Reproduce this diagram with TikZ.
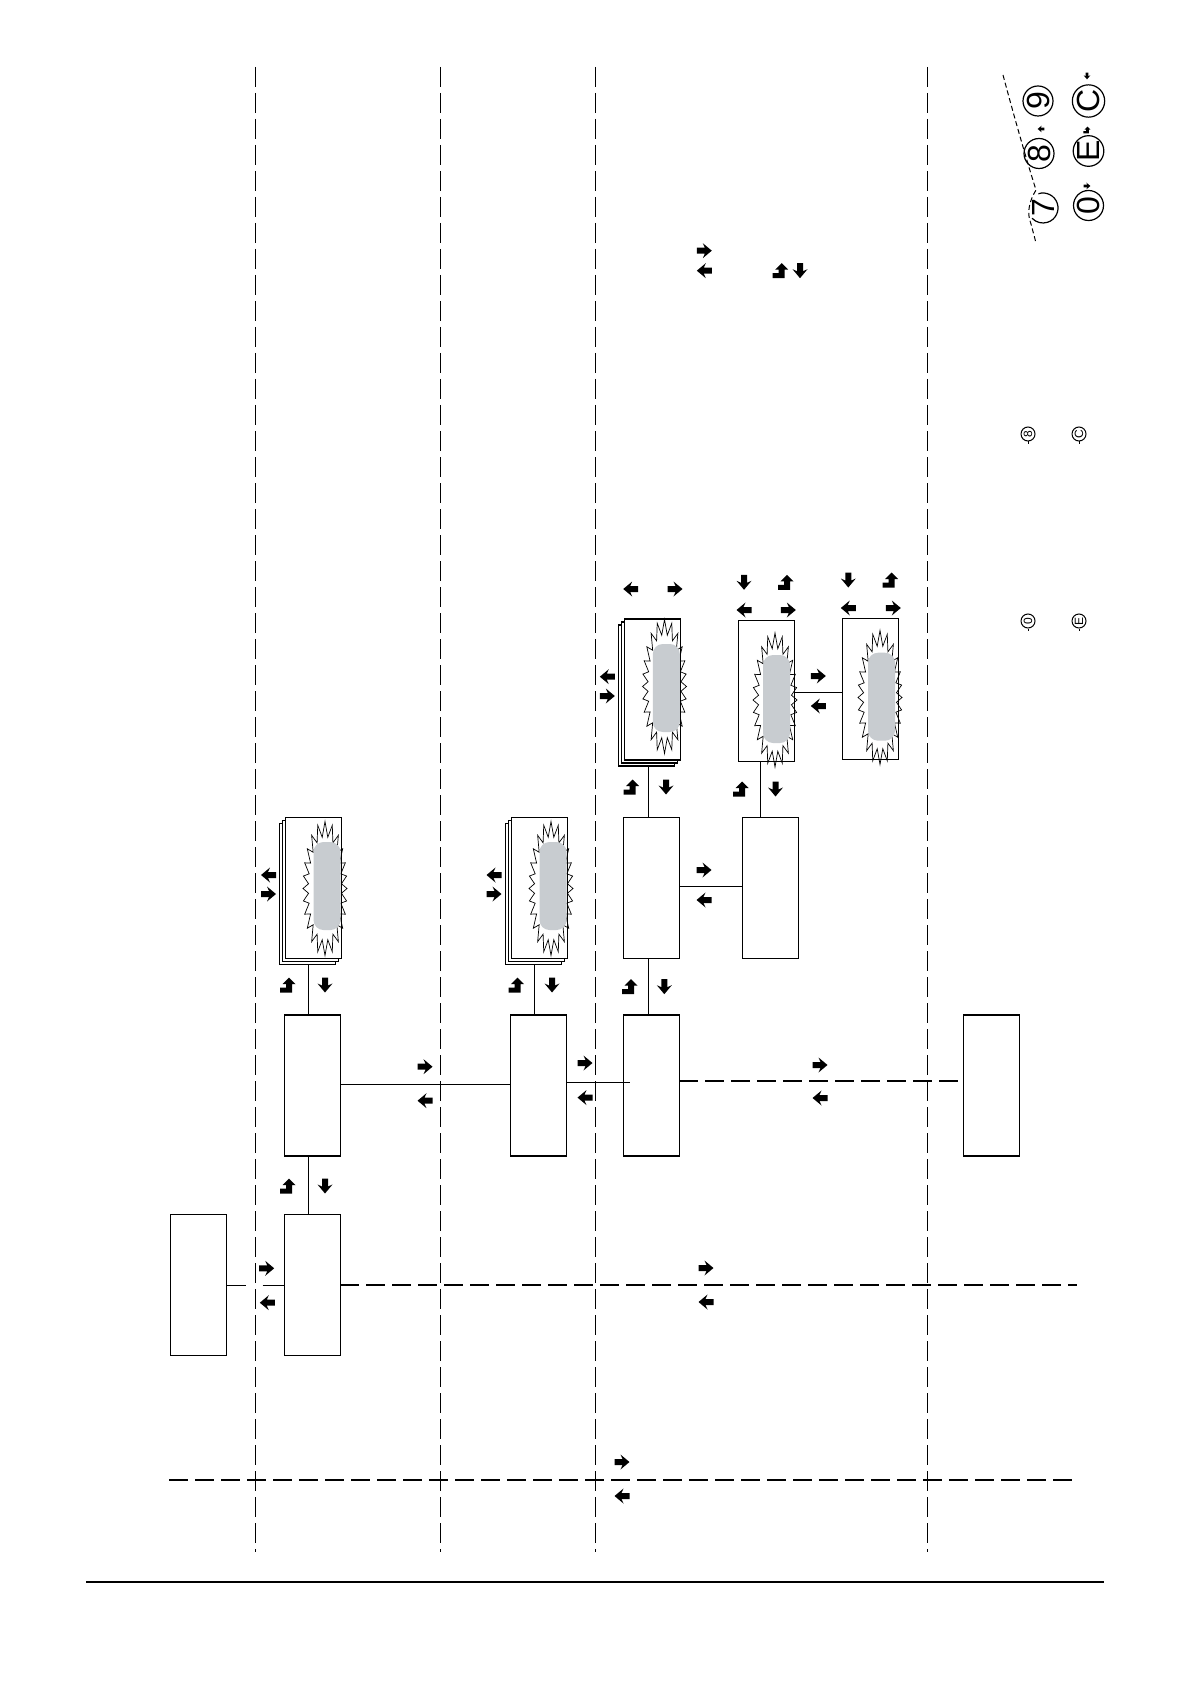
\documentclass[tikz,border=0pt]{standalone}
\usepackage{fontspec}
\setmainfont{Liberation Sans}
\usetikzlibrary{calc}
\definecolor{pillgray}{RGB}{200,204,208}
\tikzset{
  arrR/.pic={\fill (-7.5,-3) -- (0.5,-3) -- (-1.5,-7.5) -- (7.5,0) -- (-1.5,7.5) -- (0.5,3) -- (-7.5,3) -- cycle;},
  arrL/.pic={\fill (7.5,-3) -- (-0.5,-3) -- (1.5,-7.5) -- (-7.5,0) -- (1.5,7.5) -- (-0.5,3) -- (7.5,3) -- cycle;},
  arrD/.pic={\fill (-3,-7.5) -- (-3,0.5) -- (-7.5,-1.5) -- (0,7.5) -- (7.5,-1.5) -- (3,0.5) -- (3,-7.5) -- cycle;},
  arrU/.pic={\fill (1,-7.5) -- (7.5,-1) -- (4,-1) -- (4,7.5) -- (-8,7.5) -- (-8,2.5) -- (-2,2.5) -- (-2,-1) -- (-5.5,-1) -- cycle;},
  burst/.pic={\draw[line width=0.35pt] (22,0)
     foreach \i [evaluate=\i as \ax using {(mod(\i,2)==0)?22:16.5},
                 evaluate=\i as \by using {(mod(\i,2)==0)?67:52},
                 evaluate=\i as \t using {\i*7.5-8.6*sin(15*\i)}] in {1,...,47}
     { -- ({\ax*cos(\t)},{\by*sin(\t)}) } -- cycle;}
}
\begin{document}
\begin{tikzpicture}[x=0.5pt,y=-0.5pt,
  box/.style={draw, line width=0.6pt, fill=white, minimum width=28pt, minimum height=70.5pt, inner sep=0pt, outer sep=0pt},
  pill/.style={fill=pillgray, rounded corners=5pt, minimum width=13.5pt, minimum height=44pt, inner sep=0pt},
  vdash/.style={line width=0.5pt, dash pattern=on 10pt off 3pt},
  hdash/.style={line width=0.6pt, dash pattern=on 9.5pt off 3.5pt},
  conn/.style={line width=0.5pt},
  bigkey/.style={draw, circle, line width=0.6pt, minimum size=15pt, inner sep=0pt, rotate=90, font=\fontsize{16}{16}\selectfont},
  smallkey/.style={draw, circle, line width=0.5pt, minimum size=7pt, inner sep=0pt, rotate=90, font=\fontsize{6}{6}\selectfont}
]
\useasboundingbox (0,0) rectangle (1190,1684);

% vertical dashed separators
\foreach \n/\x in {v1/255.5, v2/440.3, v3/595.5, v4/927.6}{
  \coordinate (\n t) at (\x,67); \coordinate (\n b) at (\x,1552);
  \draw[vdash] (\n t) -- (\n b);
}
% horizontal dashed line (bottom)
\coordinate (h1a) at (169,1480); \coordinate (h1b) at (1077,1480);
\draw[hdash] (h1a) -- (h1b);
% bottom rule
\coordinate (bl1) at (86,1582); \coordinate (bl2) at (1104,1582);
\draw[line width=0.6pt] (bl1) -- (bl2);

% boxes
\node[box] (L0) at (198.5,1285) {};
\node[box] (A1) at (312.3,1285) {};
\node[box] (A2) at (312.3,1085.5) {};
\node[box] (B1) at (538.3,1085.5) {};
\node[box] (B2) at (651.3,1085.5) {};
\node[box] (C)  at (991.3,1085.5) {};
\node[box] (B4) at (651.3,887.8) {};
\node[box] (B5) at (770.5,887.8) {};

% stacks
\node[box] (A3c) at (307.5,894) {};
\node[box] (A3b) at (310.5,891) {};
\node[box] (A3)  at (313.5,888) {};
\pic at (325,888.5) {burst};
\node[pill] (A3p) at (327,886) {};

\node[box] (B3c) at (533.5,894) {};
\node[box] (B3b) at (536.5,891) {};
\node[box] (B3)  at (539.5,888) {};
\pic at (551,888.5) {burst};
\node[pill] (B3p) at (553,886) {};

\node[box] (B6c) at (646.3,695.5) {};
\node[box] (B6b) at (649.3,692.5) {};
\node[box] (B6)  at (652.3,689.5) {};
\pic at (664.5,686.5) {burst};
\node[pill] (B6p) at (666.3,688) {};

\node[box] (B7) at (766.3,690.8) {};
\pic at (775,700) {burst};
\node[pill] (B7p) at (776.5,699) {};

\node[box] (B8) at (870.8,688.8) {};
\pic at (880,697.5) {burst};
\node[pill] (B8p) at (881.5,696.7) {};

% connectors
\draw[conn, dash pattern=on 9.5pt off 8.5pt on 20pt] (L0.east) -- (A1.west);
\coordinate (h2b) at (1077,1285);
\draw[hdash] (A1.east) -- (h2b);
\draw[conn] ([xshift=-2pt]A1.north) -- ([xshift=-2pt]A2.south);
\draw[conn] ([xshift=-2pt]A2.north) -- ([xshift=-2pt]A2.north |- A3c.south);
\draw[conn] ([yshift=0.75pt]A2.east) -- ([yshift=0.75pt]B1.west);
\draw[conn] ([xshift=-2pt]B1.north) -- ([xshift=-2pt]B1.north |- B3c.south);
\draw[conn] ([yshift=1.75pt]B1.east) -- ([xshift=3.5pt,yshift=1.75pt]B2.west);
\draw[hdash] ([yshift=2.25pt]B2.east) -- ([yshift=2.25pt]C.west);
\draw[conn] ([xshift=-1.3pt]B2.north) -- ([xshift=-1.3pt]B4.south);
\draw[conn] ([xshift=-1.4pt]B4.north) -- ([xshift=-1.4pt]B4.north |- B6c.south);
\draw[conn] ([yshift=0.75pt]B4.east) -- ([yshift=0.75pt]B5.west);
\draw[conn] ([xshift=-5pt]B5.north) -- ([xshift=-5pt]B5.north |- B7.south);
\draw[conn] ([yshift=-0.75pt]B7.east) -- ([yshift=-0.75pt]B7.east -| B8.west);

% arrows
\pic at (266.7,1268.3) {arrR}; \pic at (267.3,1302.7) {arrL};
\pic at (288,1186) {arrU}; \pic at (325,1186) {arrD};
\pic at (288,985) {arrU}; \pic at (325,985) {arrD};
\pic at (268.5,875) {arrL}; \pic at (268.5,894) {arrR};
\pic at (425,1066.7) {arrR}; \pic at (425,1100.7) {arrL};
\pic at (516.5,985) {arrU}; \pic at (552,985) {arrD};
\pic at (494,875) {arrL}; \pic at (494,894) {arrR};
\pic at (585,1063) {arrR}; \pic at (585,1097.6) {arrL};
\pic at (820,1065) {arrR}; \pic at (820,1098) {arrL};
\pic at (630,986.7) {arrU}; \pic at (664.3,986.7) {arrD};
\pic at (704,870) {arrR}; \pic at (704,900) {arrL};
\pic at (631.5,787) {arrU}; \pic at (666,787) {arrD};
\pic at (741,789) {arrU}; \pic at (775.5,789) {arrD};
\pic at (607.3,676.7) {arrL}; \pic at (607.3,696) {arrR};
\pic at (630.7,589) {arrL}; \pic at (675,589) {arrR};
\pic at (744,582.3) {arrD}; \pic at (786,582.3) {arrU};
\pic at (744,610) {arrL}; \pic at (788.3,610) {arrR};
\pic at (848.3,580) {arrD}; \pic at (890.7,580) {arrU};
\pic at (848.3,608) {arrL}; \pic at (893.3,608) {arrR};
\pic at (818.3,676) {arrR}; \pic at (818.3,706) {arrL};
\pic at (704.3,250.7) {arrR}; \pic at (704.3,270.7) {arrL};
\pic at (780.7,270.7) {arrU}; \pic at (800,270.7) {arrD};
\pic at (706,1268) {arrR}; \pic at (706,1302) {arrL};
\pic at (622,1462) {arrR}; \pic at (622,1496) {arrL};

% keypad
\node[bigkey] (k9) at (1038,101) {9};
\node[bigkey] (k8) at (1039,153.5) {8};
\node[bigkey, draw=none] (k7) at (1043,208) {7};
\draw[line width=0.6pt] (k7.center) ++(-108:15) arc[start angle=-108, end angle=137, radius=15];
\node[bigkey] (kC) at (1088.5,101) {C};
\node[bigkey] (kE) at (1088.5,151) {E};
\node[bigkey] (k0) at (1088.5,205.5) {0};
\draw[line width=0.5pt, dash pattern=on 2.5pt off 1.5pt] (1003,75) .. controls (1015,120) and (1028,165) .. (1036,190) .. controls (1030,200) and (1026,212) .. (1031,224) -- (1036,243);
\pic[scale=0.45] at (1087,186) {arrR};
\pic[scale=0.45] at (1087,130) {arrU};
\pic[scale=0.45] at (1087,76) {arrD};
\pic[scale=0.45] at (1041,129) {arrL};

% small key icons
\node[smallkey] (s8) at (1028,434) {8};
\node[smallkey] (sC) at (1079,434) {C};
\node[smallkey] (s0) at (1028,621) {0};
\node[smallkey] (sE) at (1079,621) {E};
\foreach \k in {s8,sC,s0,sE}{ \draw[line width=0.5pt] (\k.west) -- ++(0,2.5); }
\end{tikzpicture}
\end{document}
